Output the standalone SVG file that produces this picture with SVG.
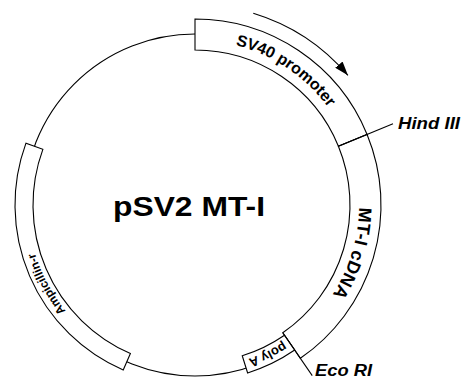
<svg xmlns="http://www.w3.org/2000/svg" width="462" height="380" viewBox="0 0 462 380">
<style>
.seg{fill:#fff;stroke:#000;stroke-width:1.1}
.bb{fill:none;stroke:#000;stroke-width:1.1}
.ln{fill:none;stroke:#000;stroke-width:1.1}
.lab{font-family:"Liberation Sans",Arial,Helvetica,sans-serif;font-weight:bold;fill:#000}
.site{font-family:"Liberation Sans",Arial,Helvetica,sans-serif;font-weight:bold;font-style:italic;fill:#000}
</style>
<defs>
<marker id="ah" markerUnits="userSpaceOnUse" markerWidth="14" markerHeight="10" viewBox="0 0 13 9" refX="13" refY="4.5" orient="auto">
<path d="M0,0 L13,4.5 L0,9 Z" fill="#000"/>
</marker>
<path id="tpSV40" d="M163.52,43.03 A165,165 0 0,1 356.97,173.52"/>
<path id="tpCDNA" d="M339.80,128.01 A164,164 0 0,1 272.00,349.80"/>
<path id="tpPOLYA" d="M330.06,296.26 A163,163 0 0,1 183.49,367.59"/>
<path id="tpAMP" d="M106.50,346.62 A167,167 0 0,1 28.10,199.17"/>
</defs>
<rect width="462" height="380" fill="#fff"/>
<g id="backbone">
<circle class="bb" cx="195" cy="205" r="171"/>
</g>
<g id="sv40">
<path class="seg" d="M195,19 A186,186 0 0,1 367.09,134.42 L338.41,146.18 A155,155 0 0,0 195,50 Z"/>
<text class="lab" font-size="16"><textPath href="#tpSV40" startOffset="50%" text-anchor="middle">SV40 promoter</textPath></text>
</g>
<g id="cdna">
<path class="seg" d="M367.09,134.42 A186,186 0 0,1 300.35,358.29 L282.79,332.74 A155,155 0 0,0 338.41,146.18 Z"/>
<text class="lab" font-size="18" letter-spacing="0.3"><textPath href="#tpCDNA" startOffset="50%" text-anchor="middle">MT-I cDNA</textPath></text>
</g>
<g id="polya">
<path class="seg" d="M294.69,350.05 A176,176 0 0,1 247.63,372.95 L242.25,355.77 A158,158 0 0,0 284.49,335.21 Z"/>
<text class="lab" font-size="13"><textPath href="#tpPOLYA" startOffset="50%" text-anchor="middle">poly A</textPath></text>
</g>
<g id="ampr">
<path class="seg" d="M123.22,370.07 A180,180 0 0,1 25.96,143.14 L42.86,149.33 A162,162 0 0,0 130.40,353.56 Z"/>
<text class="lab" font-size="12"><textPath href="#tpAMP" startOffset="50%" text-anchor="middle">Ampicillin-r</textPath></text>
</g>
<g id="title">
<text class="lab" x="113" y="216" font-size="28" textLength="152" lengthAdjust="spacingAndGlyphs">pSV2 MT-I</text>
</g>
<g id="hindIII">
<text class="site" x="398" y="129" font-size="16" textLength="62" lengthAdjust="spacingAndGlyphs">Hind III</text>
</g>
<g id="ecoRI">
<text class="site" x="315" y="376" font-size="16" textLength="57" lengthAdjust="spacingAndGlyphs">Eco RI</text>
</g>
<g id="connectors">
<line class="ln" x1="338.41" y1="146.18" x2="392.99" y2="123.80"/>
<line class="ln" x1="282.79" y1="332.74" x2="312.25" y2="375.59"/>
<path class="ln" d="M253.28,13.16 A200.5,200.5 0 0,1 347.92,75.32" marker-end="url(#ah)"/>
</g>
</svg>
